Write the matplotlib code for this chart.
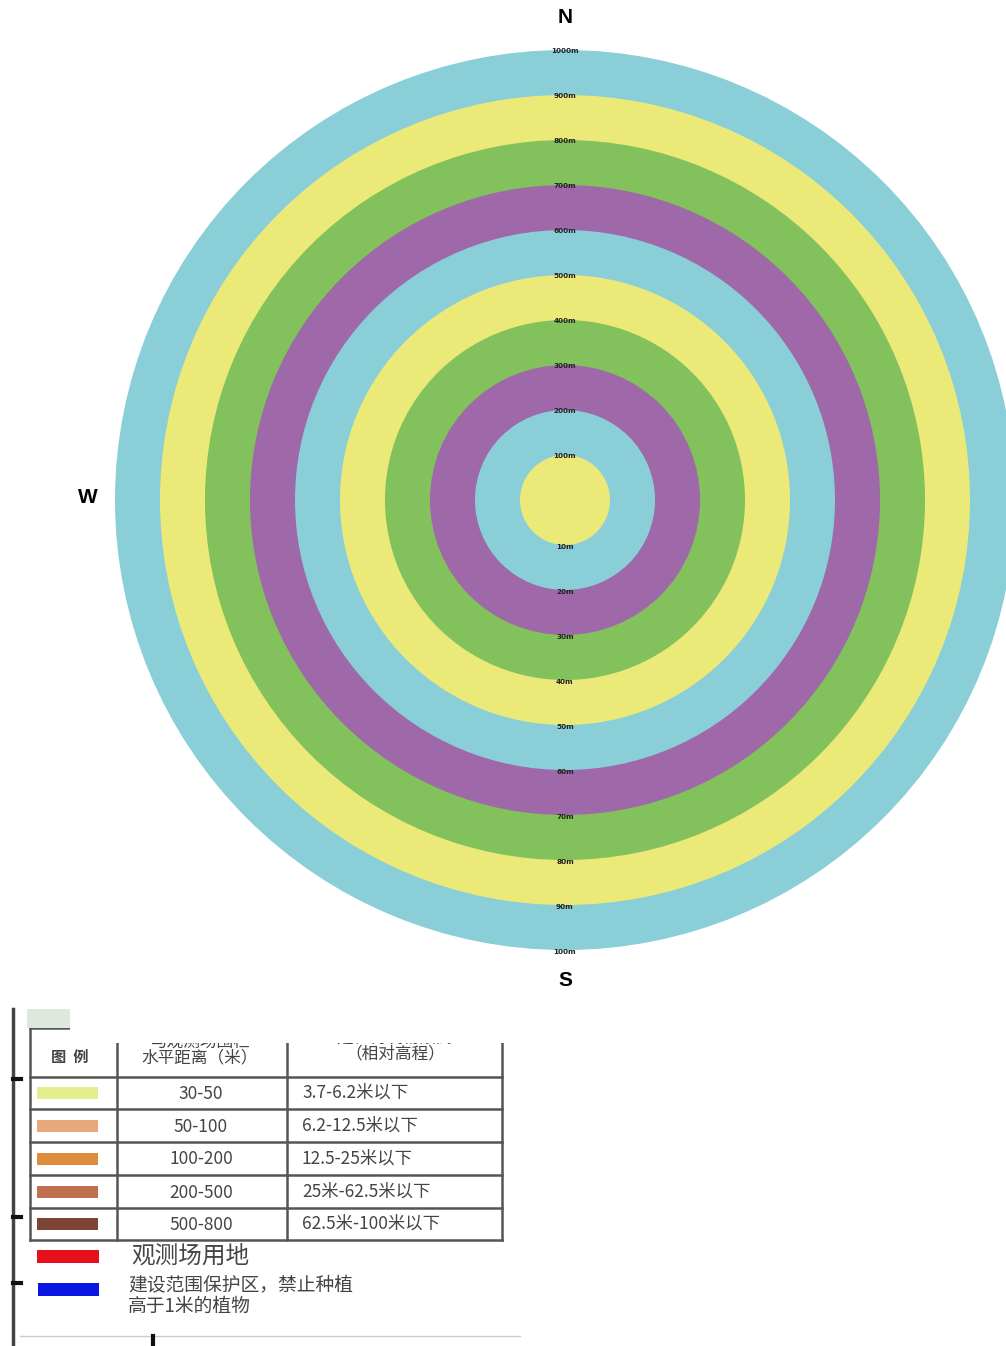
import matplotlib
matplotlib.use("Agg")
import matplotlib.pyplot as plt
from matplotlib.patches import Circle, Rectangle

plt.rcParams['font.family'] = ['Noto Sans CJK SC', 'DejaVu Sans']

# ring data: index 1 = innermost circle, 10 = outermost ring
ring_index = [1, 2, 3, 4, 5, 6, 7, 8, 9, 10]
ring_colors = ['#ebe978', '#8acfd8', '#9e68a9', '#82c15c', '#ebe978',
               '#8acfd8', '#9e68a9', '#82c15c', '#ebe978', '#8acfd8']
top_labels = ['100m', '200m', '300m', '400m', '500m',
              '600m', '700m', '800m', '900m', '1000m']
bottom_labels = ['10m', '20m', '30m', '40m', '50m',
                 '60m', '70m', '80m', '90m', '100m']

# legend table data
header = ['图  例', '与观测场围栏\n水平距离（米）', '建、构筑物限高\n（相对高程）']
dist_ranges = ['30-50', '50-100', '100-200', '200-500', '500-800']
height_limits = ['3.7-6.2米以下', '6.2-12.5米以下', '12.5-25米以下',
                 '25米-62.5米以下', '62.5米-100米以下']
swatch_colors = ['#e4ee8c', '#e8a87c', '#de8c3e', '#c0704f', '#7d4536']
extra_labels = ['观测场用地', '建设范围保护区，禁止种植', '高于1米的植物']
extra_colors = ['#e6101c', '#0a16e4']

W, H = 1006, 1346
fig = plt.figure(figsize=(W / 100, H / 100), dpi=100)
fig.patch.set_facecolor('white')

# ---- concentric rings (1 unit = 45 px, centre at px (565, 500)) ----
ax = fig.add_axes([0, 346 / H, 1, 1000 / H])
ax.set_xlim(-565 / 45, (W - 565) / 45)
ax.set_ylim(-500 / 45, 500 / 45)
ax.set_aspect('equal')
ax.axis('off')

for r, c in sorted(zip(ring_index, ring_colors), reverse=True):
    ax.add_patch(Circle((0, 0), r, facecolor=c, edgecolor='none'))

for r, lab in zip(ring_index, top_labels):
    ax.text(0, r - 0.03, lab, ha='center', va='center', fontsize=5.2,
            fontweight='bold', family='DejaVu Sans', color='#222222')
for r, lab in zip(ring_index, bottom_labels):
    ax.text(0, -r - 0.05, lab, ha='center', va='center', fontsize=5.2,
            fontweight='bold', family='DejaVu Sans', color='#222222')

ax.text(0, 500 / 45 - 17 / 45, 'N', ha='center', va='center', fontsize=15,
        fontweight='bold', family='Liberation Sans')
ax.text(0, -(981 - 500) / 45, 'S', ha='center', va='center', fontsize=15,
        fontweight='bold', family='Liberation Sans')
ax.text(-(565 - 88) / 45, 0.06, 'W', ha='center', va='center', fontsize=15,
        fontweight='bold', family='Liberation Sans')

# ---- legend (pixel coordinates) ----
lg = fig.add_axes([0, 0, 1, 346 / H])
lg.set_xlim(0, W)
lg.set_ylim(H, 1000)
lg.axis('off')

txt_col = '#444444'
line_col = '#555555'

# table frame
row_edges = [1028, 1077, 1109, 1142, 1175, 1208, 1240]
col_edges = [30, 117, 287, 502]
for y in row_edges:
    lg.plot([col_edges[0], col_edges[-1]], [y, y], color=line_col, lw=1.8)
for x in col_edges:
    lg.plot([x, x], [row_edges[0], row_edges[-1]], color=line_col, lw=1.8)

# header
lg.text(70, 1057, header[0], ha='center', va='center', fontsize=11, color=txt_col,
        fontweight='bold')
lg.text(200, 1050, header[1], ha='center', va='center', fontsize=12, color=txt_col,
        linespacing=0.95)
lg.text(395, 1046, header[2], ha='center', va='center', fontsize=12, color=txt_col,
        linespacing=0.95)

# rows
for i, (d, hl, c) in enumerate(zip(dist_ranges, height_limits, swatch_colors)):
    yc = (row_edges[i + 1] + row_edges[i + 2]) / 2
    lg.add_patch(Rectangle((37, yc - 6), 61, 12, facecolor=c, edgecolor='none'))
    lg.text(201, yc + 1, d, ha='center', va='center', fontsize=12.5, color=txt_col)
    lg.text(302, yc, hl, ha='left', va='center', fontsize=12.5, color=txt_col)

# extra legend items
lg.add_patch(Rectangle((37, 1250), 62, 13, facecolor=extra_colors[0], edgecolor='none'))
lg.text(131, 1256, extra_labels[0], ha='left', va='center', fontsize=17, color=txt_col)
lg.add_patch(Rectangle((38, 1283), 61, 13, facecolor=extra_colors[1], edgecolor='none'))
lg.text(128, 1286, extra_labels[1], ha='left', va='center', fontsize=13.5, color=txt_col)
lg.text(128, 1306, extra_labels[2], ha='left', va='center', fontsize=13.5, color=txt_col)

# white mask over the top of the scanned table
lg.add_patch(Rectangle((70, 1000), 460, 43, facecolor='white', edgecolor='none', zorder=5))
lg.add_patch(Rectangle((27, 1009), 43, 19, facecolor='#dfe8df', edgecolor='none', zorder=5))

# left border and ticks
lg.plot([13, 13], [1009, H], color='#444444', lw=2.5)
for y in [1079, 1217, 1283]:
    lg.plot([13, 21], [y, y], color='#111111', lw=3)
lg.plot([20, 520], [1336, 1336], color='#cccccc', lw=1)
lg.plot([153, 153], [1336, H], color='#111111', lw=3)

fig.savefig('out.png', dpi=100, facecolor='white')
